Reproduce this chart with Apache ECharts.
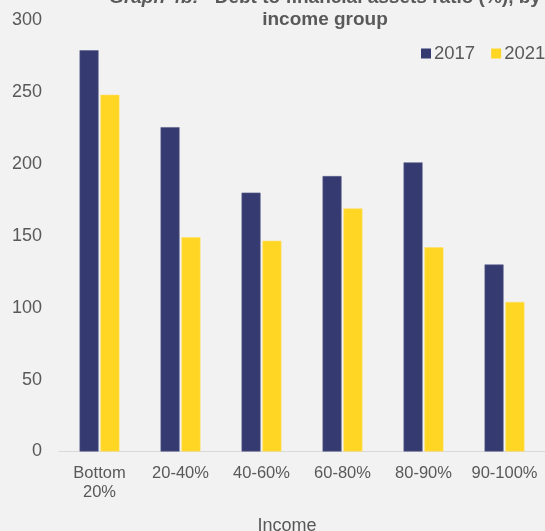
<!DOCTYPE html>
<html>
<head>
<meta charset="utf-8">
<style>
  html, body { margin: 0; padding: 0; background: #f2f2f2; }
  #chart { width: 545px; height: 531px; }
</style>
<script src="https://cdn.jsdelivr.net/npm/echarts@6/dist/echarts.min.js"></script>
</head>
<body>
<div id="chart"></div>
<script>
// Income groups along the x axis
const categories = ['Bottom\n20%', '20-40%', '40-60%', '60-80%', '80-90%', '90-100%'];
// Debt to financial assets ratio (%)
const values2017 = [279, 225.5, 180, 191.5, 201, 130];
const values2021 = [248, 149, 146.5, 169, 142, 104];
const yTicks = [0, 50, 100, 150, 200, 250, 300];

const textColor = '#595959';
const font = 'Liberation Sans, Arial, sans-serif';

const chart = echarts.init(document.getElementById('chart'));
chart.setOption({
  backgroundColor: '#f2f2f2',
  animation: false,
  textStyle: { fontFamily: font },
  title: [
    {
      text: '{it|Graph 4b:}{b|   Debt to financial assets ratio (%), by}\n{b|income group}',
      left: 320,
      top: -18,
      textAlign: 'center',
      textStyle: {
        rich: {
          it: { fontStyle: 'italic', fontSize: 19, color: textColor, fontFamily: font, lineHeight: 22 },
          b: { fontWeight: 'bold', fontSize: 19, color: textColor, fontFamily: font, lineHeight: 22 }
        }
      }
    },
    {
      text: 'Income',
      left: 282,
      top: 512,
      textAlign: 'center',
      textStyle: { fontSize: 18, fontWeight: 'normal', color: textColor, fontFamily: font }
    }
  ],
  legend: {
    data: ['2017', '2021'],
    orient: 'horizontal',
    left: 421,
    top: 44,
    width: 220,
    padding: 0,
    itemWidth: 10,
    itemHeight: 10,
    itemGap: 16,
    icon: 'rect',
    itemStyle: { borderWidth: 0 },
    textStyle: { fontSize: 18.5, color: textColor, fontFamily: font, padding: [0, 0, 0, -2] }
  },
  grid: { left: 59, top: 20, width: 490, height: 431.5, containLabel: false },
  xAxis: {
    type: 'category',
    data: categories,
    axisLine: { show: true, lineStyle: { color: '#d9d9d9', width: 1 } },
    axisTick: { show: false },
    axisLabel: { color: textColor, fontSize: 16.5, lineHeight: 19, margin: 12, fontFamily: font, interval: 0 }
  },
  yAxis: {
    type: 'value',
    min: yTicks[0],
    max: yTicks[yTicks.length - 1],
    interval: 50,
    axisLine: { show: false },
    axisTick: { show: false },
    splitLine: { show: false },
    axisLabel: { color: textColor, fontSize: 18, margin: 17, fontFamily: font }
  },
  series: [
    {
      name: '2017',
      type: 'bar',
      data: values2017,
      barWidth: 19,
      barGap: '10%',
      itemStyle: { color: '#353a70', borderColor: '#5a5f8c', borderWidth: 0.6 }
    },
    {
      name: '2021',
      type: 'bar',
      data: values2021,
      barWidth: 19,
      barGap: '10%',
      itemStyle: { color: '#ffd624', borderColor: '#ffe066', borderWidth: 0.6 }
    }
  ]
});
</script>
</body>
</html>
